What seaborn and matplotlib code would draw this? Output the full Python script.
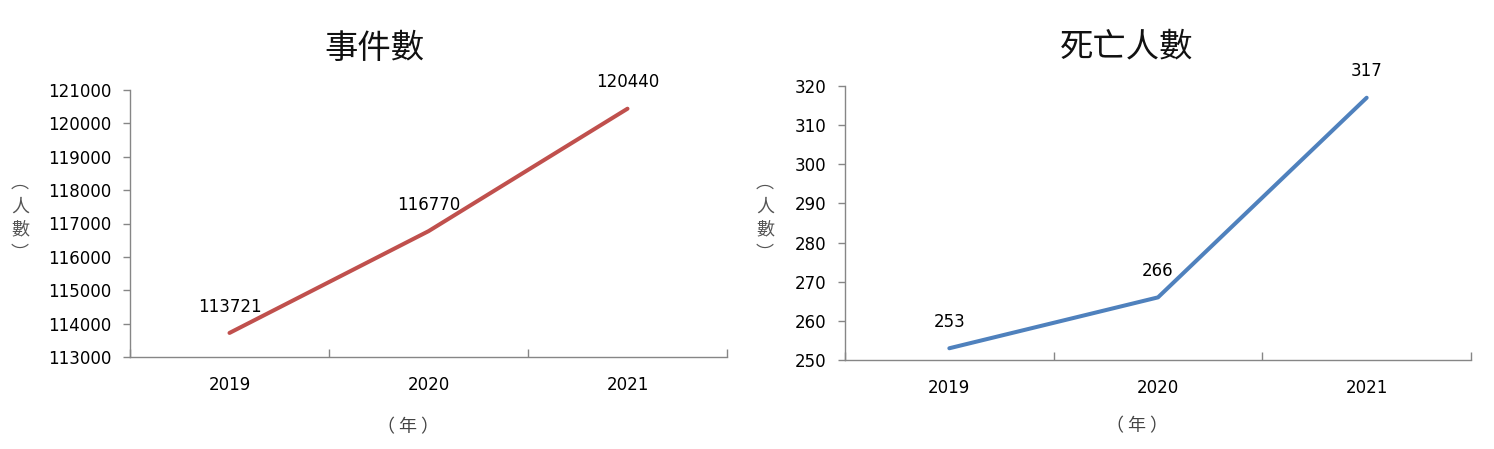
import seaborn as sns
import matplotlib.pyplot as plt
import pandas as pd

# data
years = ["2019", "2020", "2021"]
cases = [113721, 116770, 120440]
deaths = [253, 266, 317]

sns.set_style("white")
plt.rcParams["font.family"] = ["DejaVu Sans", "Noto Sans CJK TC"]
cjk = ["Noto Sans CJK TC", "DejaVu Sans"]
grey = "#868686"

fig = plt.figure(figsize=(14.94, 4.49), dpi=100)
ax1 = fig.add_axes([130 / 1494, 92 / 449, 597 / 1494, 267 / 449])
ax2 = fig.add_axes([845 / 1494, 89 / 449, 626 / 1494, 274 / 449])


def draw(ax, values, color, title, title_x, title_pad, ylim, ystep, xlab_y):
    df = pd.DataFrame({"year": range(len(years)), "value": values})
    sns.lineplot(data=df, x="year", y="value", color=color, linewidth=2.9, ax=ax)
    for i, v in enumerate(values):
        ax.annotate(str(v), (i, v), xytext=(0, 19), textcoords="offset points",
                    ha="center", va="center", fontsize=12, color="black")
    ax.set_xlim(-0.5, len(years) - 0.5)
    ax.set_ylim(*ylim)
    ax.set_yticks(range(ylim[0], ylim[1] + 1, ystep))
    # category ticks on the boundaries, labels in the middle
    ax.set_xticks([i - 0.5 for i in range(len(years) + 1)])
    ax.set_xticklabels([""] * (len(years) + 1))
    ax.set_xticks(range(len(years)), minor=True)
    ax.set_xticklabels(years, minor=True, fontsize=12)
    ax.tick_params(axis="x", which="minor", length=0, pad=14, labelcolor="black")
    ax.tick_params(axis="x", which="major", length=6, direction="in", color=grey, width=1)
    ax.tick_params(axis="y", length=5, direction="out", color=grey, width=1,
                   labelsize=12, pad=8.5, labelcolor="black")
    ax.xaxis.set_ticks_position("bottom")
    ax.yaxis.set_ticks_position("left")
    for s in ["top", "right"]:
        ax.spines[s].set_visible(False)
    for s in ["left", "bottom"]:
        ax.spines[s].set_color(grey)
        ax.spines[s].set_linewidth(1)
    ax.set_xlabel("（ 年 ）", family=cjk, fontsize=13, color="#444444")
    ax.xaxis.set_label_coords(0.466, xlab_y)
    ax.set_ylabel("")
    ax.set_title(title, family=cjk, fontsize=24, x=title_x, pad=title_pad,
                 color="#111111", fontweight="light")


draw(ax1, cases, "#C0504D", "事件數", 0.41, 23, (113000, 121000), 1000, -0.23)
draw(ax2, deaths, "#4F81BD", "死亡人數", 0.45, 21, (250, 320), 10, -0.21)

# vertical y labels
for x in [20, 765]:
    fig.text(x / 1494, 1 - 218 / 449, "︵\n人\n數\n︶", family=cjk, fontsize=13,
             color="#555555", ha="center", va="center", linespacing=1.4)

fig.savefig("out.png", dpi=100)
